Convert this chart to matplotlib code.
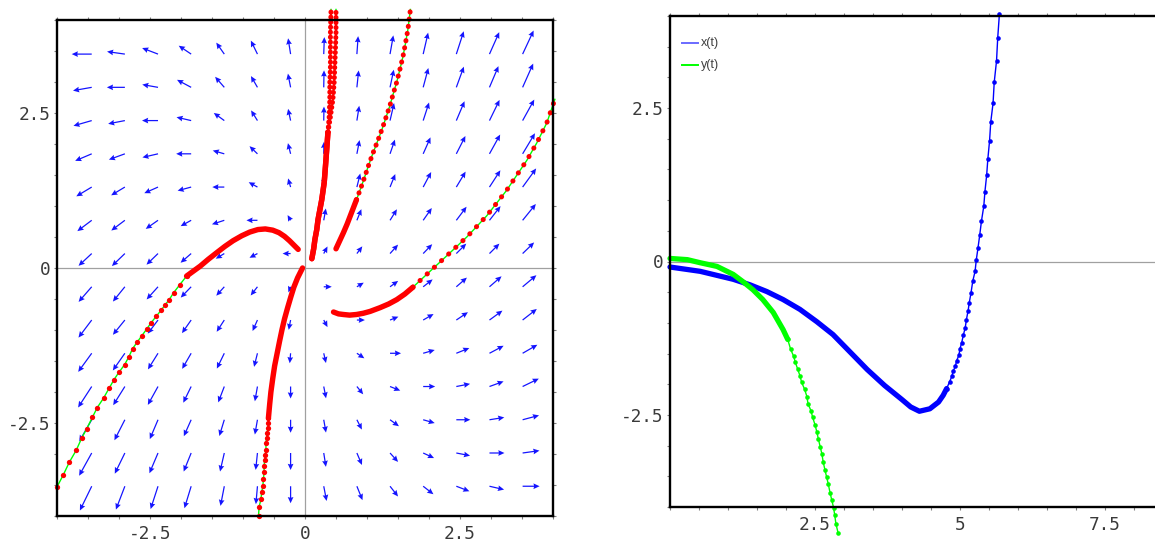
import numpy as np
import matplotlib
matplotlib.use("Agg")
import matplotlib.pyplot as plt
from matplotlib.ticker import FixedLocator, FixedFormatter, MultipleLocator

plt.rcParams['axes.unicode_minus'] = False

# ---------------- data ----------------
# direction field: rows top -> bottom, columns left -> right
field_angle_deg = [
    [180, 172, 159, 146, 125, 116,  99,  88,  86,  80,  77,  72,  66,  65],
    [190, 180, 170, 152, 131, 120, 101,  89,  84,  78,  75,  70,  67,  66],
    [196, 191, 180, 167, 144, 122, 102,  89,  81,  77,  72,  67,  64,  61],
    [203, 200, 193, 180, 164, 136, 104,  89,  79,  71,  66,  63,  61,  59],
    [211, 211, 204, 195, 180, 151, 106,  87,  76,  68,  62,  59,  57,  54],
    [217, 217, 215, 209, 198, 180, 120,  80,  68,  58,  55,  53,  52,  51],
    [223, 224, 224, 221, 211, 208, 180,  62,  53,  48,  46,  45,  45,  44],
    [229, 231, 228, 226, 228, 232, 248,   0,  31,  36,  38,  41,  41,  40],
    [233, 231, 233, 235, 237, 246, 259, 298,   0,  22,  30,  34,  36,  38],
    [234, 235, 238, 240, 244, 256, 265, 283, 326,   0,  16,  22,  28,  30],
    [237, 238, 241, 244, 249, 260, 270, 281, 309, 338,   0,  11,  20,  26],
    [240, 243, 247, 246, 253, 260, 270, 280, 297, 324, 344,   0,   9,  15],
    [241, 244, 247, 248, 257, 264, 270, 279, 293, 312, 335, 349,   0,   8],
    [244, 249, 252, 253, 259, 265, 270, 281, 292, 308, 322, 339, 347,   0],
]
field_magnitude = [
    [20, 18, 17, 15, 14, 15, 16, 17, 18, 19, 22, 24, 24, 26],
    [19, 18, 16, 16, 14, 13, 14, 17, 17, 18, 20, 22, 23, 26],
    [19, 17, 16, 15, 13, 12, 12, 14, 15, 18, 19, 21, 23, 24],
    [18, 17, 16, 15, 12, 11, 11, 12, 14, 15, 18, 20, 22, 24],
    [18, 16, 15, 14, 12, 10,  9, 12, 14, 14, 17, 18, 20, 23],
    [18, 17, 15, 12, 13, 11,  6, 12, 12, 13, 15, 17, 18, 21],
    [18, 18, 16, 14, 10,  9,  8,  8,  9, 12, 13, 14, 14, 16],
    [20, 19, 17, 15, 12, 11,  6,  8,  8, 10, 12, 14, 16, 18],
    [22, 19, 17, 16, 14, 12, 10,  8,  8,  9, 12, 14, 16, 18],
    [23, 21, 19, 18, 17, 14, 10, 10,  9, 11, 12, 14, 16, 17],
    [25, 22, 21, 18, 17, 15, 12, 12, 10, 11, 12, 14, 15, 18],
    [25, 23, 21, 18, 17, 15, 13, 13, 11, 11, 12, 14, 15, 17],
    [26, 23, 22, 20, 19, 17, 17, 14, 13, 12, 12, 14, 15, 17],
    [27, 25, 24, 23, 20, 18, 17, 15, 15, 13, 13, 14, 15, 17],
]

# phase-plane trajectories
A_dots_x = [-4.00, -3.90, -3.80, -3.69, -3.60, -3.52, -3.43, -3.35, -3.25, -3.16, -3.08, -3.00, -2.91,
            -2.84, -2.78, -2.71, -2.63, -2.55, -2.48, -2.40, -2.32, -2.26, -2.19, -2.12, -2.02, -1.91]
A_dots_y = [-3.53, -3.34, -3.13, -2.94, -2.74, -2.59, -2.41, -2.25, -2.10, -1.94, -1.80, -1.68, -1.56,
            -1.43, -1.30, -1.20, -1.09, -0.98, -0.88, -0.78, -0.68, -0.60, -0.51, -0.40, -0.27, -0.13]
A_solid_x = [-1.91, -1.80, -1.69, -1.56, -1.42, -1.29, -1.16, -1.02, -0.89, -0.76, -0.64, -0.52,
             -0.42, -0.33, -0.25, -0.18, -0.11]
A_solid_y = [-0.13, -0.05, 0.03, 0.14, 0.25, 0.35, 0.44, 0.52, 0.58, 0.62, 0.63, 0.61,
             0.57, 0.51, 0.44, 0.37, 0.30]

B_dots_x = [-0.75, -0.74, -0.71, -0.70, -0.68, -0.67, -0.66, -0.66, -0.65, -0.64, -0.63, -0.63,
            -0.62, -0.61, -0.60, -0.59, -0.59]
B_dots_y = [-4.00, -3.85, -3.73, -3.62, -3.52, -3.40, -3.29, -3.20, -3.09, -3.01, -2.93, -2.82,
            -2.74, -2.66, -2.58, -2.50, -2.42]
B_solid_x = [-0.59, -0.57, -0.55, -0.52, -0.49, -0.45, -0.41, -0.37, -0.33, -0.28, -0.23, -0.18,
             -0.12, -0.04]
B_solid_y = [-2.42, -2.20, -2.00, -1.78, -1.58, -1.38, -1.18, -0.99, -0.82, -0.64, -0.47, -0.31,
             -0.16, 0.00]

C_solid_x = [0.11, 0.14, 0.16, 0.19, 0.21, 0.24, 0.27, 0.29, 0.31, 0.33, 0.35, 0.37]
C_solid_y = [0.15, 0.31, 0.46, 0.62, 0.78, 0.94, 1.10, 1.24, 1.38, 1.64, 1.91, 2.19]
C1_dots_x = [0.37, 0.39, 0.40, 0.40, 0.41, 0.41, 0.41, 0.42]
C1_dots_y = [2.19, 2.44, 2.72, 2.99, 3.25, 3.52, 3.80, 4.17]
C2_dots_x = [0.37, 0.41, 0.45, 0.47, 0.48, 0.49, 0.50, 0.50]
C2_dots_y = [2.19, 2.44, 2.72, 2.99, 3.25, 3.52, 3.80, 4.17]

D_solid_x = [0.50, 0.56, 0.62, 0.68, 0.73, 0.78, 0.83]
D_solid_y = [0.31, 0.44, 0.57, 0.71, 0.84, 0.97, 1.10]
D_dots_x = [0.83, 0.90, 0.96, 1.02, 1.08, 1.13, 1.18, 1.25, 1.31, 1.37, 1.42, 1.48, 1.53, 1.58, 1.62, 1.66, 1.70]
D_dots_y = [1.10, 1.29, 1.46, 1.64, 1.81, 1.94, 2.07, 2.26, 2.44, 2.62, 2.80, 3.00, 3.20, 3.41, 3.62, 3.85, 4.17]

E_solid_x = [0.46, 0.54, 0.62, 0.72, 0.83, 0.94, 1.05, 1.13, 1.21, 1.35, 1.48, 1.61, 1.74]
E_solid_y = [-0.71, -0.74, -0.75, -0.76, -0.75, -0.73, -0.70, -0.67, -0.64, -0.58, -0.51, -0.42, -0.31]
E_dots_x = [1.74, 2.02, 2.29, 2.61, 2.93, 3.25, 3.58, 3.74, 3.90, 4.03]
E_dots_y = [-0.31, -0.05, 0.20, 0.50, 0.84, 1.25, 1.74, 2.02, 2.34, 2.72]

# time series
xt_solid_t = [0.00, 0.52, 1.09, 1.38, 1.67, 1.95, 2.24, 2.53, 2.81, 3.10, 3.40, 3.70, 4.00, 4.15, 4.30,
              4.48, 4.63, 4.71, 4.77]
xt_solid_v = [-0.09, -0.16, -0.29, -0.38, -0.49, -0.62, -0.78, -0.98, -1.19, -1.47, -1.76, -2.02, -2.25,
              -2.37, -2.44, -2.40, -2.29, -2.18, -2.07]
xt_dots_t = [4.77, 4.82, 4.86, 4.88, 4.92, 4.94, 4.98, 5.00, 5.03, 5.06, 5.09, 5.11, 5.14, 5.16, 5.19, 5.22,
             5.26, 5.28, 5.31, 5.34, 5.37, 5.41, 5.43, 5.46, 5.48, 5.51, 5.53, 5.57, 5.59, 5.63, 5.65, 5.68]
xt_dots_v = [-2.07, -1.96, -1.87, -1.79, -1.71, -1.62, -1.53, -1.42, -1.32, -1.19, -1.08, -0.95, -0.80, -0.67,
             -0.51, -0.32, -0.16, 0.02, 0.22, 0.43, 0.66, 0.90, 1.14, 1.41, 1.67, 1.97, 2.27, 2.58, 2.92,
             3.27, 3.64, 4.04]
yt_solid_t = [0.00, 0.30, 0.52, 0.81, 1.09, 1.26, 1.43, 1.60, 1.78, 1.95, 2.03]
yt_solid_v = [0.05, 0.03, -0.02, -0.08, -0.21, -0.33, -0.46, -0.62, -0.83, -1.11, -1.27]
yt_dots_t = [2.03, 2.08, 2.13, 2.16, 2.20, 2.24, 2.27, 2.32, 2.36, 2.38, 2.43, 2.46, 2.50, 2.53, 2.56, 2.59,
             2.62, 2.64, 2.67, 2.70, 2.73, 2.76, 2.79, 2.82, 2.84, 2.86, 2.90]
yt_dots_v = [-1.27, -1.43, -1.54, -1.64, -1.75, -1.86, -1.97, -2.08, -2.20, -2.32, -2.43, -2.54, -2.66, -2.77,
             -2.90, -3.02, -3.14, -3.26, -3.39, -3.51, -3.63, -3.77, -3.89, -4.01, -4.13, -4.27, -4.43]

left_ticks = [-2.5, 0, 2.5]
left_ticklabels = ["-2.5", "0", "2.5"]
right_xticks = [2.5, 5, 7.5]
right_xticklabels = ["2.5", "5", "7.5"]
right_yticks = [-2.5, 0, 2.5]
right_yticklabels = ["-2.5", "0", "2.5"]
legend_labels = ["x(t)", "y(t)"]

# ---------------- style ----------------
W, H = 1155, 543
fig = plt.figure(figsize=(W / 100, H / 100), dpi=100)
axL = fig.add_axes([57 / W, (H - 516) / H, 496 / W, 496 / H])
axR = fig.add_axes([670 / W, (H - 507) / H, 492 / W, 491 / H])

RED, GREEN, BLUE = "#ff0000", "#00ff00", "#0000ff"
GRAY = "#a0a0a0"
label_font = dict(family="DejaVu Sans Mono", size=12.8, color="#3a3a3a")


def style_axes(ax):
    for s in ax.spines.values():
        s.set_linewidth(1.7)
        s.set_color("black")
        s.set_zorder(6)
    ax.tick_params(which="both", direction="out", length=2.2, width=0.8, color="#808080",
                   top=True, right=True, labeltop=False, labelright=False)
    ax.tick_params(which="both", axis="x", pad=4)
    ax.tick_params(which="both", axis="y", pad=2.5)
    for lab in ax.get_xticklabels() + ax.get_yticklabels():
        lab.set_fontfamily(label_font["family"])
        lab.set_fontsize(label_font["size"])
        lab.set_color(label_font["color"])


# ----- left: direction field -----
axL.set_xlim(-4, 4)
axL.set_ylim(-4, 4)
axL.axhline(0, color=GRAY, lw=0.9, zorder=1)
axL.axvline(0, color=GRAY, lw=0.9, zorder=1)

ang = np.radians(np.array(field_angle_deg, dtype=float))
mag = np.array(field_magnitude, dtype=float) / 62.0
nr, nc = ang.shape
gx = np.linspace(-3.44, 3.51, nc)
gy = np.linspace(3.45, -3.52, nr)
GX, GY = np.meshgrid(gx, gy)
axL.quiver(GX, GY, mag * np.cos(ang), mag * np.sin(ang), angles="xy", scale_units="xy", scale=1,
           pivot="tail", color="#1414ff", width=0.0025, headwidth=4.6, headlength=5.0,
           headaxislength=4.5, zorder=2)


def trajectory(ax, solid_x, solid_y, dots_x, dots_y, dotted=False, gap=1.5):
    ax.plot(dots_x, dots_y, color=GREEN, lw=1.0, zorder=3, clip_on=False)
    ax.plot(solid_x, solid_y, color=GREEN, lw=1.0, zorder=3, clip_on=False)
    ax.plot(solid_x, solid_y, color=RED, lw=3.9, solid_capstyle="round", solid_joinstyle="round",
            zorder=4, clip_on=False)
    if dotted:
        ax.plot(dots_x, dots_y, color=RED, lw=3.6, linestyle=(0, (0.05, gap)), dash_capstyle="round",
                zorder=4, clip_on=False)
    else:
        ax.plot(dots_x, dots_y, linestyle="none", marker="o", ms=3.8, mec="none", mfc=RED,
                zorder=4, clip_on=False)


trajectory(axL, A_solid_x, A_solid_y, A_dots_x, A_dots_y)
trajectory(axL, B_solid_x, B_solid_y, B_dots_x, B_dots_y)
trajectory(axL, C_solid_x, C_solid_y, C1_dots_x, C1_dots_y, dotted=True, gap=0.95)
trajectory(axL, C_solid_x, C_solid_y, C2_dots_x, C2_dots_y, dotted=True, gap=0.95)
trajectory(axL, D_solid_x, D_solid_y, D_dots_x, D_dots_y, dotted=True, gap=1.4)
trajectory(axL, E_solid_x, E_solid_y, E_dots_x, E_dots_y, dotted=True, gap=1.9)

axL.xaxis.set_major_locator(FixedLocator(left_ticks))
axL.xaxis.set_major_formatter(FixedFormatter(left_ticklabels))
axL.yaxis.set_major_locator(FixedLocator(left_ticks))
axL.yaxis.set_major_formatter(FixedFormatter(left_ticklabels))
axL.xaxis.set_minor_locator(MultipleLocator(0.5))
axL.yaxis.set_minor_locator(MultipleLocator(0.5))
style_axes(axL)

# ----- right: time series -----
axR.set_xlim(0, 492 / 58.0)
axR.set_ylim(-4, 4)
axR.axhline(0, color=GRAY, lw=0.9, zorder=1)

axR.plot(xt_solid_t, xt_solid_v, color=BLUE, lw=3.8, solid_capstyle="round", solid_joinstyle="round",
         zorder=4, clip_on=False)
axR.plot(xt_dots_t, xt_dots_v, color=BLUE, lw=1.0, zorder=4, clip_on=False)
axR.plot(xt_dots_t, xt_dots_v, linestyle="none", marker="o", ms=3.3, mec="none", mfc=BLUE,
         zorder=4, clip_on=False)
axR.plot(yt_solid_t, yt_solid_v, color=GREEN, lw=3.8, solid_capstyle="round", solid_joinstyle="round",
         zorder=4, clip_on=False)
axR.plot(yt_dots_t, yt_dots_v, color=GREEN, lw=1.0, zorder=4, clip_on=False)
axR.plot(yt_dots_t, yt_dots_v, linestyle="none", marker="o", ms=3.3, mec="none", mfc=GREEN,
         zorder=4, clip_on=False)

axR.xaxis.set_major_locator(FixedLocator(right_xticks))
axR.xaxis.set_major_formatter(FixedFormatter(right_xticklabels))
axR.yaxis.set_major_locator(FixedLocator(right_yticks))
axR.yaxis.set_major_formatter(FixedFormatter(right_yticklabels))
axR.xaxis.set_minor_locator(MultipleLocator(0.5))
axR.yaxis.set_minor_locator(MultipleLocator(0.5))
style_axes(axR)

# legend (manual, Maple style)
for i, (lab, col) in enumerate(zip(legend_labels, ["#6a6aff", GREEN])):
    yy = 0.945 - i * 0.045
    axR.plot([0.025, 0.056], [yy, yy], transform=axR.transAxes, color=col, lw=1.4, zorder=5)
    axR.text(0.063, yy, lab, transform=axR.transAxes, va="center", ha="left",
             family="Liberation Sans", fontsize=9, color="#404040", zorder=5)

fig.savefig("out.png", dpi=100)
